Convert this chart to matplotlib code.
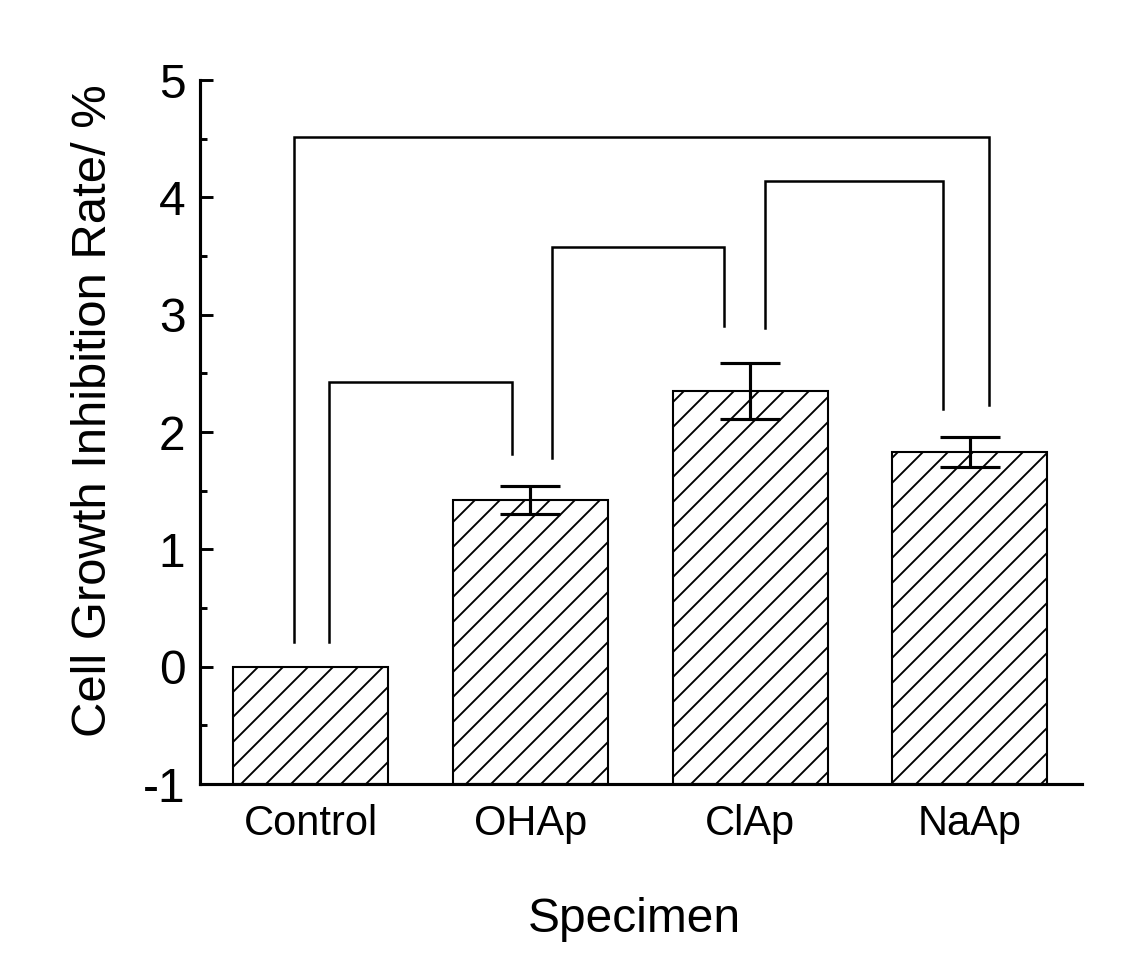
import matplotlib
matplotlib.use("Agg")
import matplotlib.pyplot as plt
from matplotlib.ticker import MultipleLocator

plt.rcParams['font.family'] = ['Liberation Sans', 'DejaVu Sans']
plt.rcParams['hatch.linewidth'] = 0.9

categories = ["Control", "OHAp", "ClAp", "NaAp"]
values = [0.0, 1.42, 2.35, 1.83]
errors = [0.0, 0.12, 0.24, 0.13]
baseline = -1.0

# significance brackets
bracket_left_x = [-0.075, 0.084, 1.099, 2.068]
bracket_right_x = [3.087, 0.917, 1.881, 2.878]
bracket_top = [4.51, 2.43, 3.58, 4.14]
bracket_left_end = [0.21, 0.21, 1.78, 2.89]
bracket_right_end = [2.23, 1.815, 2.906, 2.20]

yticks = [-1, 0, 1, 2, 3, 4, 5]

fig = plt.figure(figsize=(1143 / 150, 964 / 150), dpi=150)
ax = fig.add_axes([200 / 1143, 1 - 784 / 964, 882 / 1143, 704 / 964])

x = list(range(len(categories)))
heights = [v - baseline for v in values]
ax.bar(x, heights, bottom=baseline, width=0.705, color='white', edgecolor='black',
       linewidth=1.0, hatch='//', zorder=2)
ax.errorbar(x[1:], values[1:], yerr=errors[1:], fmt='none', ecolor='black',
            elinewidth=1.5, capsize=14.4, capthick=1.5, zorder=3)

for lx, rx, top, le, re in zip(bracket_left_x, bracket_right_x, bracket_top,
                               bracket_left_end, bracket_right_end):
    ax.plot([lx, lx, rx, rx], [le, top, top, re], color='black',
            linewidth=1.2, solid_joinstyle='miter', zorder=4)

ax.set_xlim(-0.503, 3.51)
ax.set_ylim(-1, 5)
ax.set_yticks(yticks)
ax.set_yticklabels([str(t) for t in yticks])
ax.yaxis.set_minor_locator(MultipleLocator(0.5))
ax.set_xticks(x)
ax.set_xticklabels(categories)

for s in ['top', 'right']:
    ax.spines[s].set_visible(False)
for s in ['left', 'bottom']:
    ax.spines[s].set_linewidth(1.5)
    ax.spines[s].set_zorder(5)

ax.tick_params(axis='y', which='major', direction='in', length=6.2, width=1.4,
               labelsize=23, pad=7)
ax.tick_params(axis='y', which='minor', direction='in', length=3.4, width=1.4)
ax.tick_params(axis='x', which='both', length=0, labelsize=20, pad=9.5)

ax.set_ylabel("Cell Growth Inhibition Rate/ %", fontsize=23.5)
ax.set_xlabel("Specimen", fontsize=23)
ax.yaxis.set_label_coords(-0.095, 0.53)
ax.xaxis.set_label_coords(0.492, -0.16)

fig.savefig("out.png", dpi=150, facecolor='white')
